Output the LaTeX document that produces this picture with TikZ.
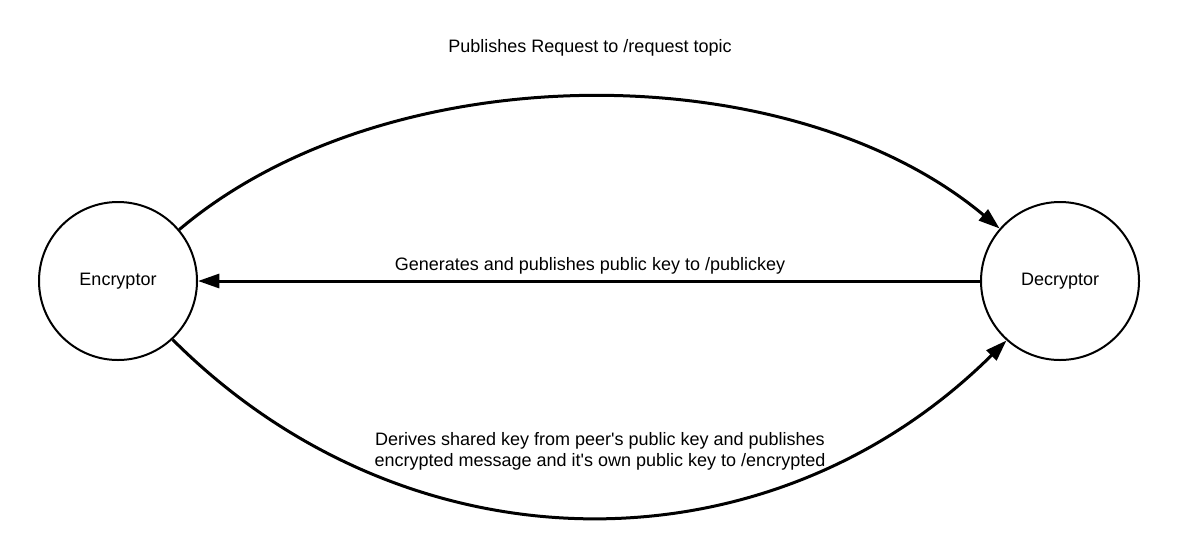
\documentclass[tikz,border=0pt]{standalone}
\usepackage{fontspec}
\setmainfont{Liberation Sans}
\usetikzlibrary{arrows.meta}
\begin{document}
\begin{tikzpicture}[x=0.75pt,y=-0.75pt,every node/.style={font=\fontsize{13.5}{15.75}\selectfont},
  peer/.style={draw,circle,line width=1.5pt,minimum size=118.5pt,inner sep=0pt},
  msg/.style={line width=2.25pt,-{Triangle[length=16pt,width=10.5pt]}}]
\useasboundingbox (0,0) rectangle (1180,558);
\node[peer] (enc) at (118,281) {Encryptor};
\node[peer] (dec) at (1060,281) {Decryptor};
\draw[msg] (enc.40) .. controls (388,53) and (790,53) .. (dec.139);
\draw[msg] (dec.180) -- (enc.0);
\draw[msg] (enc.-47) .. controls (409,576) and (769,576) .. (dec.-132);
\node (req) at (590,48) {Publishes Request to /request topic};
\node (pub) at (590,266) {Generates and publishes public key to /publickey};
\node[align=center] (enc-msg) at (600,451) {Derives shared key from peer\textquotesingle s public key and publishes\\encrypted message and it\textquotesingle s own public key to /encrypted};
\end{tikzpicture}
\end{document}
